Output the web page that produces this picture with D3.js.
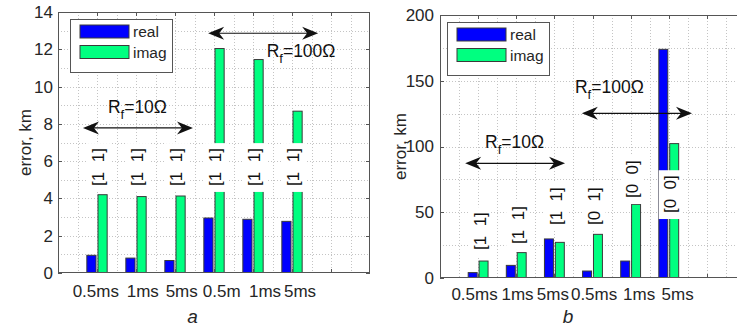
<!DOCTYPE html>
<html><head><meta charset="utf-8">
<script src="https://cdn.jsdelivr.net/npm/d3@7"></script>
<style>
html,body{margin:0;padding:0;background:#fff;}
svg{display:block;font-family:"Liberation Sans",Arial,Helvetica,sans-serif;}
</style></head>
<body>
<svg id="chart" width="737" height="329"></svg>
<script>
// ---------- data ----------
const categoriesA = ['0.5ms','1ms','5ms','0.5m','1ms','5ms'];
const categoriesB = ['0.5ms','1ms','5ms','0.5ms','1ms','5ms'];
const seriesNames = ['real','imag'];
const realA = [0.95, 0.80, 0.67, 2.95, 2.88, 2.77];
const imagA = [4.20, 4.10, 4.13, 12.04, 11.45, 8.68];
const realB = [4.1, 9.6, 29.7, 5.3, 12.9, 173.9];
const imagB = [12.9, 19.3, 27.1, 33.2, 56.0, 102.2];
const flagsA = ['[1  1]','[1  1]','[1  1]','[1  1]','[1  1]','[1  1]'];
const flagsB = ['[1  1]','[1  1]','[1  1]','[0  1]','[0  0]','[0  0]'];
const flagAtA = [4.67, 4.67, 4.67, 4.67, 4.67, 4.67];
const flagAtB = [21.3, 25.9, 40.3, 40.3, 60.8, 49.4];
const yTicksA = [0,2,4,6,8,10,12,14];
const yTicksB = [0,50,100,150,200];
const rfLabels = ['10\u03A9','100\u03A9'];
const captions = ['a','b'];

// ---------- style ----------
const BLUE = '#0000ff', GREEN = '#00ff80', EDGE = '#3a3a3a';
const AXIS = '#555', TXT = '#262626', GRID = '#c4c4c4';
const FONT = 17;

const svg = d3.select('#chart');

function panel(cfg){
  const g = svg.append('g');
  const x = d3.scaleLinear().domain([0, 8]).range([cfg.L, cfg.R]);
  const y = d3.scaleLinear().domain([0, cfg.yMax]).range([cfg.B, cfg.T]);
  const u = x(1) - x(0);

  const clipId = 'clip' + cfg.id;
  svg.append('clipPath').attr('id', clipId).append('rect')
    .attr('x', cfg.L).attr('y', cfg.T).attr('width', cfg.R - cfg.L).attr('height', cfg.B - cfg.T);

  // grid (dotted, minor spacing)
  const grid = g.append('g').attr('stroke', GRID).attr('stroke-width', 1).attr('stroke-dasharray', '1,2');
  grid.selectAll('line.v').data(d3.range(0.5, 8, 0.5)).join('line')
    .attr('x1', d => Math.round(x(d)) + 0.5).attr('x2', d => Math.round(x(d)) + 0.5)
    .attr('y1', cfg.T).attr('y2', cfg.B);
  grid.selectAll('line.h').data(d3.range(cfg.yMinor, cfg.yMax, cfg.yMinor)).join('line')
    .attr('y1', d => Math.round(y(d)) + 0.5).attr('y2', d => Math.round(y(d)) + 0.5)
    .attr('x1', cfg.L).attr('x2', cfg.R);

  // bars
  const off = 0.143, bw = 0.235;
  const bars = g.append('g').attr('clip-path', `url(#${clipId})`);
  [[cfg.real, BLUE, -off], [cfg.imag, GREEN, off]].forEach(([vals, col, o]) => {
    bars.selectAll(null).data(vals).join('rect')
      .attr('x', (d, i) => x(i + 1 + o - bw / 2))
      .attr('width', bw * u)
      .attr('y', d => y(d))
      .attr('height', d => y(0) - y(d))
      .attr('fill', col).attr('stroke', EDGE).attr('stroke-width', 1);
  });

  // flag labels with white background
  const fl = g.append('g');
  cfg.flags.forEach((t, i) => {
    const cx = x(i + 1) + 1.5, yb = y(cfg.flagAt[i]);
    const grp = fl.append('g');
    const rect = grp.append('rect').attr('fill', '#fff');
    const txt = grp.append('text')
      .attr('transform', `translate(${cx},${yb}) rotate(-90)`)
      .attr('dy', '0.35em')
      .attr('xml:space', 'preserve').style('white-space', 'pre')
      .attr('font-size', 17).attr('fill', '#111').text(t);
    const len = txt.node().getComputedTextLength();
    rect.attr('x', cx - 11.5).attr('width', 23).attr('y', yb - len - 5).attr('height', len + 11);
  });

  // frame
  g.append('rect').attr('x', cfg.L + 0.5).attr('y', cfg.T + 0.5)
    .attr('width', cfg.R - cfg.L - 1).attr('height', cfg.B - cfg.T - 1)
    .attr('fill', 'none').attr('stroke', AXIS).attr('stroke-width', 1);

  // ticks inside
  const tk = 4;
  const ticks = g.append('g').attr('stroke', AXIS).attr('stroke-width', 1);
  d3.range(1, 8).forEach(v => {
    const xx = Math.round(x(v)) + 0.5;
    ticks.append('line').attr('x1', xx).attr('x2', xx).attr('y1', cfg.T).attr('y2', cfg.T + tk);
    ticks.append('line').attr('x1', xx).attr('x2', xx).attr('y1', cfg.B).attr('y2', cfg.B - tk);
  });
  cfg.yTicks.forEach(v => {
    const yy = Math.round(y(v)) + 0.5;
    ticks.append('line').attr('y1', yy).attr('y2', yy).attr('x1', cfg.L).attr('x2', cfg.L + tk);
    ticks.append('line').attr('y1', yy).attr('y2', yy).attr('x1', cfg.R).attr('x2', cfg.R - tk);
  });

  // y tick labels
  g.append('g').selectAll('text').data(cfg.yTicks).join('text')
    .attr('x', cfg.L - cfg.yLabGap).attr('y', d => y(d)).attr('dy', '0.35em')
    .attr('text-anchor', 'end').attr('font-size', FONT).attr('fill', TXT).text(d => d);

  // x tick labels
  g.append('g').selectAll('text').data(cfg.cats).join('text')
    .attr('x', (d, i) => x(i + 1) + cfg.xLabDx[i]).attr('y', cfg.xLabY)
    .attr('text-anchor', 'middle').attr('font-size', FONT).attr('fill', TXT).text(d => d);

  // y axis title
  g.append('text').attr('transform', `translate(${cfg.yTitleX},${(cfg.T + cfg.B) / 2}) rotate(-90)`)
    .attr('text-anchor', 'middle').attr('font-size', 17).attr('fill', TXT).text('error, km');

  // caption
  g.append('text').attr('x', cfg.capX).attr('y', 323).attr('text-anchor', 'middle')
    .attr('font-size', 19).attr('font-style', 'italic').attr('fill', TXT).text(cfg.caption);

  // legend
  const lg = g.append('g').attr('transform', `translate(${cfg.legX},${cfg.legY})`);
  lg.append('rect').attr('x', 0.5).attr('y', 0.5).attr('width', 102).attr('height', 53)
    .attr('fill', '#fff').attr('stroke', AXIS).attr('stroke-width', 1);
  seriesNames.forEach((s, i) => {
    lg.append('rect').attr('x', 10).attr('y', 6 + i * 20.5).attr('width', 49).attr('height', 13)
      .attr('fill', i ? GREEN : BLUE).attr('stroke', EDGE).attr('stroke-width', 1);
    lg.append('text').attr('x', 63).attr('y', 18 + i * 20.5).attr('font-size', 15.5).attr('fill', TXT).text(s);
  });

  // arrows and Rf texts
  cfg.arrows.forEach((a, k) => {
    const x1 = x(a.x1), x2 = x(a.x2), yy = y(a.y);
    const ag = g.append('g');
    ag.append('line').attr('x1', x1 + 8).attr('x2', x2 - 8).attr('y1', yy).attr('y2', yy)
      .attr('stroke', '#111').attr('stroke-width', 1.2);
    const head = (tx, dir) => `M${tx},${yy} L${tx - dir * 16},${yy - 6.5} L${tx - dir * 11},${yy} L${tx - dir * 16},${yy + 6.5} Z`;
    ag.append('path').attr('d', head(x2, 1)).attr('fill', '#111');
    ag.append('path').attr('d', head(x1, -1)).attr('fill', '#111');
    const t = g.append('text').attr('x', x(a.tx)).attr('y', y(a.ty)).attr('font-size', 17.5).attr('fill', '#111');
    t.append('tspan').text('R');
    t.append('tspan').attr('font-size', 13).attr('dy', 6).text('f');
    t.append('tspan').attr('dy', -6).text('=' + rfLabels[k]);
  });
}

panel({
  id: 'A', L: 58, R: 370, T: 12, B: 273, yMax: 14, yMinor: 1,
  real: realA, imag: imagA, flags: flagsA, flagAt: flagAtA, yTicks: yTicksA,
  cats: categoriesA, xLabDx: [-1.2, 6.8, 6.7, 7.7, 12, 8], xLabY: 297, yLabGap: 5,
  yTitleX: 31, capX: 192.5, caption: captions[0], legX: 70, legY: 19,
  arrows: [{x1: 0.64, x2: 3.46, y: 7.78, tx: 1.28, ty: 8.57},
           {x1: 3.85, x2: 6.67, y: 12.86, tx: 5.35, ty: 11.6}]
});
panel({
  id: 'B', L: 440, R: 745, T: 15, B: 278, yMax: 200, yMinor: 25,
  real: realB, imag: imagB, flags: flagsB, flagAt: flagAtB, yTicks: yTicksB,
  cats: categoriesB, xLabDx: [-3.6, 1.3, -1.5, 1.6, 8.5, 8.9], xLabY: 300, yLabGap: 6,
  yTitleX: 406, capX: 568, caption: captions[1], legX: 447, legY: 22,
  arrows: [{x1: 0.66, x2: 3.28, y: 87.2, tx: 1.18, ty: 98.6},
           {x1: 3.72, x2: 6.61, y: 125.2, tx: 3.54, ty: 140.5}]
});
</script>
</body></html>
